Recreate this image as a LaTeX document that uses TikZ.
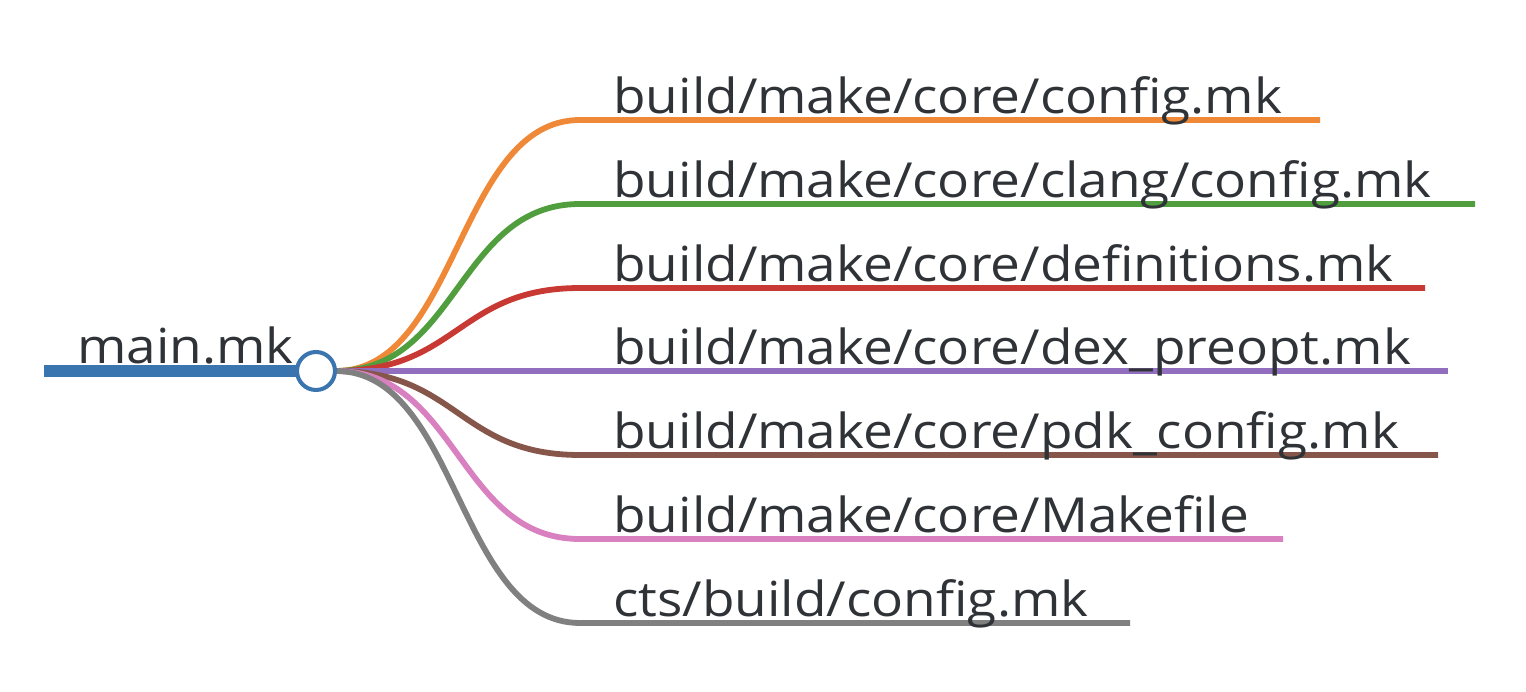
\documentclass[tikz,border=0pt]{standalone}
\usepackage{fontspec}
\setmainfont{Open Sans}[FakeStretch=1.1]
\usepackage{tikz}
\definecolor{mapblue}{RGB}{58, 117, 176}
\definecolor{maporange}{RGB}{239, 137, 56}
\definecolor{mapgreen}{RGB}{80, 158, 62}
\definecolor{mapred}{RGB}{200, 57, 52}
\definecolor{mappurple}{RGB}{146, 110, 190}
\definecolor{mapbrown}{RGB}{135, 86, 75}
\definecolor{mappink}{RGB}{216, 128, 192}
\definecolor{mapgray}{RGB}{128, 128, 128}
\definecolor{maptext}{RGB}{47, 51, 55}

\begin{document}
\begin{tikzpicture}[x=0.02cm, y=-0.02cm,
  maplabel/.style={anchor=base west, inner sep=0pt, text=maptext, font=\fontsize{27.5}{33}\selectfont},
  branch/.style={line width=3.3pt}]
\useasboundingbox (0,0) rectangle (1526,692);
% root
\coordinate (rootstart) at (44,371);
\coordinate (hubwest) at (297,371);
\coordinate (hub) at (336,371);
\draw[mapblue, line width=6.8pt] (rootstart) -- (hubwest);
\node[maplabel] (mainlbl) at (77,364) {main.mk};
% branches
\foreach \i/\yy/\xend/\col/\txt in {
  1/120/1320/maporange/{build/make/core/config.mk},
  2/204/1475/mapgreen/{build/make/core/clang/config.mk},
  3/288/1425/mapred/{build/make/core/definitions.mk},
  4/371/1448/mappurple/{build/make/core/dex\_preopt.mk},
  5/455/1438/mapbrown/{build/make/core/pdk\_config.mk},
  6/539/1283/mappink/{build/make/core/Makefile},
  7/623/1130/mapgray/{cts/build/config.mk}} {
  \coordinate (s\i) at (580,\yy);
  \coordinate (e\i) at (\xend,\yy);
  \draw[branch, \col] (hub) .. controls (458,371) and (458,\yy) .. (s\i) -- (e\i);
  \node[maplabel] (lbl\i) at (613,\yy-6) {\txt};
}
\node[circle, draw=mapblue, fill=white, line width=2.3pt, minimum size=0.76cm, inner sep=0pt] (root) at (316,371) {};
\end{tikzpicture}
\end{document}
